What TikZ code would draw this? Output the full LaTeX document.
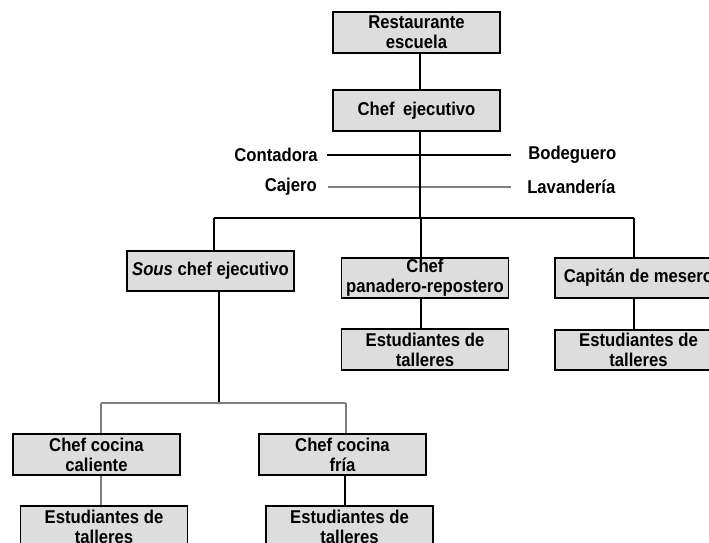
\documentclass[tikz,border=0pt]{standalone}
\usepackage{fontspec}
\setmainfont{Liberation Sans}[FakeStretch=0.9]
\definecolor{boxgray}{HTML}{DDDDDD}
\definecolor{linegray}{HTML}{7F7F7F}
\begin{document}
\begin{tikzpicture}[x=0.75pt,y=-0.75pt,
  box/.style={draw=black,fill=boxgray,line width=1.4pt,minimum width=125.25pt,
    minimum height=30.5pt,inner sep=0pt,align=center,
    font=\fontsize{13.9}{15}\selectfont\bfseries},
  lbl/.style={inner sep=0pt,font=\fontsize{13.9}{15}\selectfont\bfseries},
  thickline/.style={line width=1.5pt,black},
  thinline/.style={line width=0.8pt,black},
  grayline/.style={line width=0.9pt,linegray}]
\useasboundingbox (0,0) rectangle (709,542);
\clip (0,0) rectangle (709,542);
% boxes
\node[box] (rest) at (416.5,32.5) {Restaurante\\escuela};
\node[box] (chef) at (416.5,110.5) {Chef\hspace{0.45em}ejecutivo};
\node[box] (sous) at (210.5,271) {\textit{Sous} chef ejecutivo};
\node[box] (pan) at (425,278) {Chef\\panadero-repostero};
\node[box] (cap) at (638.5,278) {Capitán de mesero};
\node[box] (est2) at (425,349.5) {Estudiantes de\\talleres};
\node[box] (est3) at (638.5,350) {Estudiantes de\\talleres};
\node[box] (cal) at (96.5,454.5) {Chef cocina\\caliente};
\node[box] (fria) at (342.5,454.5) {Chef cocina\\fría};
\node[box] (est4) at (104,526.5) {Estudiantes de\\talleres};
\node[box] (est5) at (349.5,526.5) {Estudiantes de\\talleres};
% side labels
\node[lbl,anchor=east] (cont) at (318,155) {Contadora};
\node[lbl,anchor=east] (caj) at (317,187) {Cajero};
\node[lbl,anchor=west] (bod) at (528,155) {Bodeguero};
\node[lbl,anchor=west] (lav) at (527,187) {Lavandería};
% coordinates for connector lines
\coordinate (bus) at (420,218);
\coordinate (busL) at (214,218);
\coordinate (busR) at (634,218);
\coordinate (busP) at (421,218);
\coordinate (sousx) at (219,403);
\coordinate (lbusL) at (101,403);
\coordinate (lbusR) at (346,403);
\coordinate (friax) at (345,403);
% side lines
\draw[thinline] ([xshift=7]cont.east) -- ([xshift=-13]bod.west);
\draw[grayline] ([xshift=8]caj.east) -- ([xshift=-12]lav.west);
% top connectors
\draw[thickline] (rest.south -| bus) -- (chef.north -| bus);
\draw[thickline] (chef.south -| bus) -- (bus);
\draw[thickline] (busL) -- (busR);
\draw[thickline] (busL) -- (sous.north -| busL);
\draw[thickline] (busP) -- (pan.north -| busP);
\draw[thickline] (busR) -- (cap.north -| busR);
\draw[thickline] (pan.south -| busP) -- (est2.north -| busP);
\draw[thickline] (cap.south -| busR) -- (est3.north -| busR);
% lower part
\draw[thickline] (sous.south -| sousx) -- (sousx);
\draw[grayline] (lbusL) -- (lbusR);
\draw[grayline] (lbusL) -- (cal.north -| lbusL);
\draw[grayline] (lbusR) -- (fria.north -| lbusR);
\draw[grayline] (cal.south -| lbusL) -- (est4.north -| lbusL);
\draw[thickline] (fria.south -| friax) -- (est5.north -| friax);
\end{tikzpicture}
\end{document}
